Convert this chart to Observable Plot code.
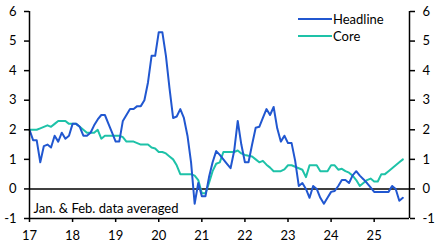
<!DOCTYPE html>
<html>
<head>
<meta charset="utf-8">
<script src="https://cdn.jsdelivr.net/npm/d3@7"></script>
<script src="https://cdn.jsdelivr.net/npm/@observablehq/plot@0.6"></script>
<style>
  html, body { margin: 0; padding: 0; background: #fff; }
  #wrap { position: relative; width: 444px; height: 249px; font-family: Lato, "Open Sans", sans-serif; }
  .leg { position: absolute; left: 298px; display: flex; align-items: center; font-size: 13px; color: #000; }
  .leg span.sw { display: inline-block; width: 34px; height: 2px; margin-right: 1px; }
</style>
</head>
<body>
<div id="wrap"></div>
<script>
// Monthly data, Jan 2017 .. Sep 2025 (y/y %)
const startYear = 2017;
const headline = [
  2.0, 1.65, 1.65, 0.9, 1.45, 1.5, 1.4, 1.8, 1.6, 1.9, 1.7, 1.8,          // 2017
  2.2, 2.2, 2.1, 1.8, 1.8, 1.9, 2.15, 2.35, 2.5, 2.5, 2.2, 1.9,           // 2018
  1.6, 1.6, 2.3, 2.5, 2.7, 2.7, 2.8, 2.8, 3.0, 3.6, 4.5, 4.5,             // 2019
  5.3, 5.3, 4.5, 3.4, 2.4, 2.45, 2.7, 2.4, 1.8, 0.9, -0.5, 0.2,           // 2020
  -0.25, -0.25, 0.4, 0.9, 1.28, 1.15, 1.0, 0.85, 0.7, 1.28, 2.3, 1.5,     // 2021
  0.9, 0.9, 1.5, 2.07, 2.1, 2.4, 2.7, 2.5, 2.77, 2.05, 1.6, 1.8,          // 2022
  1.55, 1.55, 0.95, 0.1, 0.2, 0.0, -0.3, 0.1, 0.0, -0.3, -0.5, -0.3,      // 2023
  -0.1, -0.07, 0.1, 0.3, 0.3, 0.2, 0.46, 0.6, 0.45, 0.33, 0.2, 0.05,      // 2024
  -0.1, -0.1, -0.1, -0.1, -0.1, 0.1, 0.0, -0.4, -0.3                      // 2025
];
const core = [
  2.0, 2.0, 2.0, 2.05, 2.1, 2.15, 2.1, 2.2, 2.3, 2.3, 2.3, 2.2,           // 2017
  2.2, 2.2, 2.1, 2.0, 1.9, 1.9, 1.9, 2.0, 1.7, 1.8, 1.8, 1.8,             // 2018
  1.8, 1.8, 1.75, 1.6, 1.6, 1.6, 1.55, 1.5, 1.5, 1.5, 1.4, 1.37,          // 2019
  1.25, 1.25, 1.2, 1.1, 1.0, 0.8, 0.5, 0.5, 0.5, 0.5, 0.45, 0.3,          // 2020
  -0.15, -0.15, 0.2, 0.6, 0.85, 0.9, 1.25, 1.25, 1.25, 1.25, 1.3, 1.2,    // 2021
  1.15, 1.12, 1.1, 1.0, 0.9, 0.95, 0.82, 0.72, 0.6, 0.6, 0.6, 0.66,       // 2022
  0.8, 0.8, 0.75, 0.7, 0.65, 0.4, 0.8, 0.8, 0.8, 0.6, 0.6, 0.6,           // 2023
  0.8, 0.8, 0.65, 0.68, 0.6, 0.55, 0.45, 0.3, 0.1, 0.2, 0.3, 0.35,        // 2024
  0.25, 0.25, 0.5, 0.5, 0.6, 0.7, 0.8, 0.9, 1.0                           // 2025
];
const yTicks = [-1, 0, 1, 2, 3, 4, 5, 6];
const yTickLabels = ["-1", "0", "1", "2", "3", "4", "5", "6"];
const xTicks = [2017, 2018, 2019, 2020, 2021, 2022, 2023, 2024, 2025];
const xTickLabels = ["17", "18", "19", "20", "21", "22", "23", "24", "25"];
const seriesNames = ["Headline", "Core"];
const seriesColors = ["#2157d0", "#1ec2a8"];
const note = "Jan. & Feb. data averaged";

const rows = [];
headline.forEach((v, i) => rows.push({t: startYear + i / 12, v, s: seriesNames[0]}));
core.forEach((v, i) => rows.push({t: startYear + i / 12, v, s: seriesNames[1]}));

const xDomain = [2017, 2025.82];
const font = "Lato, 'Open Sans', sans-serif";
const yFmt = d => yTickLabels[yTicks.indexOf(d)];
const xFmt = d => xTickLabels[xTicks.indexOf(d)];

const chart = Plot.plot({
  width: 444,
  height: 249,
  marginLeft: 29,
  marginRight: 35,
  marginTop: 11,
  marginBottom: 31,
  style: {fontFamily: font, fontSize: "13px", background: "#fff", color: "#000"},
  x: {domain: xDomain},
  y: {domain: [-1, 6]},
  color: {domain: seriesNames, range: seriesColors},
  marks: [
    Plot.ruleY([0], {stroke: "#000", strokeWidth: 1.5}),
    Plot.line(rows.filter(d => d.s === seriesNames[1]), {x: "t", y: "v", stroke: "s", strokeWidth: 2}),
    Plot.line(rows.filter(d => d.s === seriesNames[0]), {x: "t", y: "v", stroke: "s", strokeWidth: 2}),
    Plot.ruleX([xDomain[0]], {stroke: "#000", strokeWidth: 1.5}),
    Plot.ruleX([xDomain[1]], {stroke: "#000", strokeWidth: 1.5}),
    Plot.ruleY([-1], {stroke: "#000", strokeWidth: 1.5}),
    Plot.axisY({anchor: "left", ticks: yTicks, tickFormat: yFmt, tickSize: 5, tickPadding: 8, label: null, strokeWidth: 1.5, fontSize: 13}),
    Plot.axisY({anchor: "right", ticks: yTicks, tickFormat: yFmt, tickSize: 5, tickPadding: 8, label: null, strokeWidth: 1.5, fontSize: 13}),
    Plot.axisX({anchor: "bottom", ticks: xTicks, tickFormat: xFmt, tickSize: 4, tickPadding: 8, label: null, strokeWidth: 1.5, fontSize: 13}),
    Plot.text([note], {frameAnchor: "bottom-left", dx: 4, dy: -6, textAnchor: "start", fontSize: 13, fill: "#000"})
  ]
});

const wrap = document.getElementById("wrap");
wrap.appendChild(chart);
seriesNames.forEach((name, i) => {
  const d = document.createElement("div");
  d.className = "leg";
  d.style.top = (11 + i * 17) + "px";
  d.innerHTML = `<span class="sw" style="background:${seriesColors[i]}"></span>${name}`;
  wrap.appendChild(d);
});
</script>
</body>
</html>
